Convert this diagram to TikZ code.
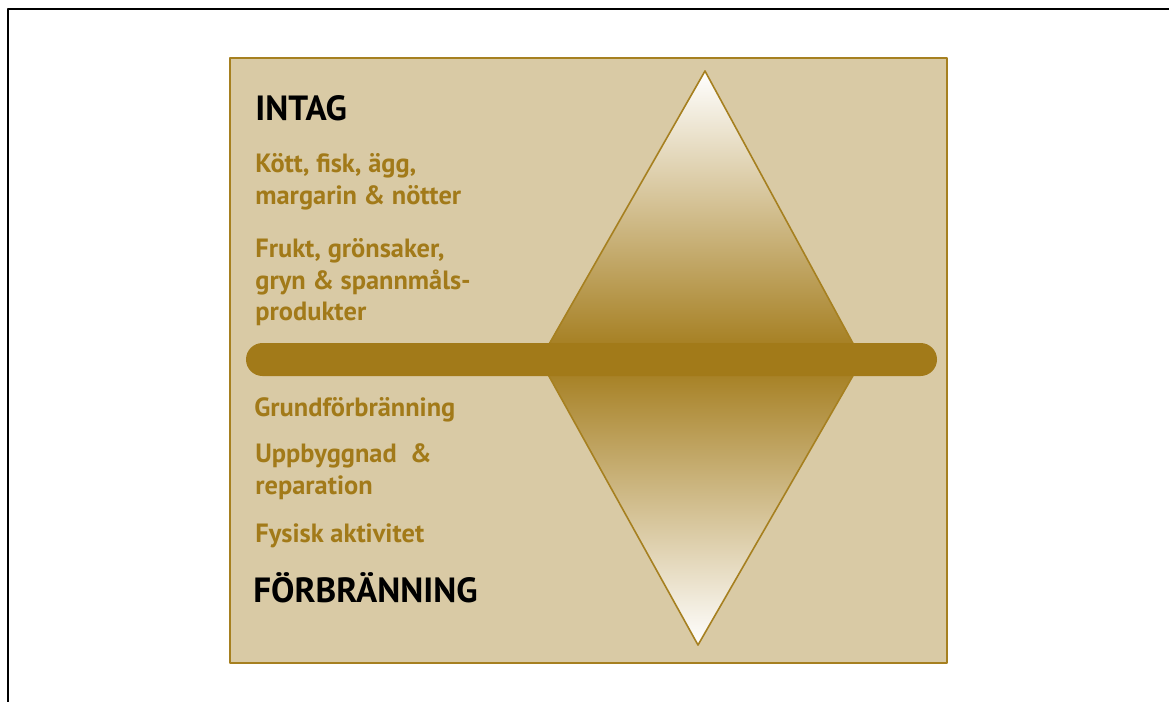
\documentclass[tikz,border=0pt]{standalone}
\usepackage{fontspec}
\setmainfont{PT Sans}
\usetikzlibrary{calc}

\begin{document}
\begin{tikzpicture}[line cap=round,line join=round,x=0.5pt,y=-0.5pt]
\definecolor{guld}{RGB}{162,122,25}
\definecolor{sand}{RGB}{217,202,165}
\definecolor{kant}{RGB}{166,128,32}
\tikzset{rubrik/.style={anchor=base west,inner sep=0pt,font=\bfseries\fontsize{17.5}{20}\selectfont,text=black},
  punkt/.style={anchor=base west,inner sep=0pt,align=left,font=\bfseries\fontsize{13.2}{15.75}\selectfont,text=guld}}
\useasboundingbox (0,0) rectangle (1169,702);
% ram
\draw [line width=1pt,line cap=butt] (8,702) -- (8,9) -- (1169,9);
\draw [line width=1pt,color=kant,fill=sand] (230,58) rectangle (947,663);
% romb och balk
\shade [top color=white,bottom color=white,middle color=guld] (705,71) -- (540,360) -- (698,645) -- (862,360) -- cycle;
\draw [line width=0.8pt,color=kant] (705,71) -- (540,360) -- (698,645) -- (862,360) -- cycle;
\fill [guld,rounded corners=8.25pt] (246,343) rectangle (937,376);
% texter (ankare = sista radens baslinje)
\node [rubrik] (intag) at (255,120) {INTAG};
\node [punkt] (kott) at (255,204) {Kött, fisk, ägg,\\margarin \& nötter};
\node [punkt] (frukt) at (255,320.7) {Frukt, grönsaker,\\gryn \& spannmåls-\\produkter};
\node [punkt] (grund) at (254,416.7) {Grundförbränning};
\node [punkt] (uppbygg) at (255,494) {Uppbyggnad\ \ \&\\reparation};
\node [punkt] (fysisk) at (255,542.3) {Fysisk aktivitet};
\node [rubrik] (forbr) at (253,602.3) {FÖRBRÄNNING};
\end{tikzpicture}
\end{document}
